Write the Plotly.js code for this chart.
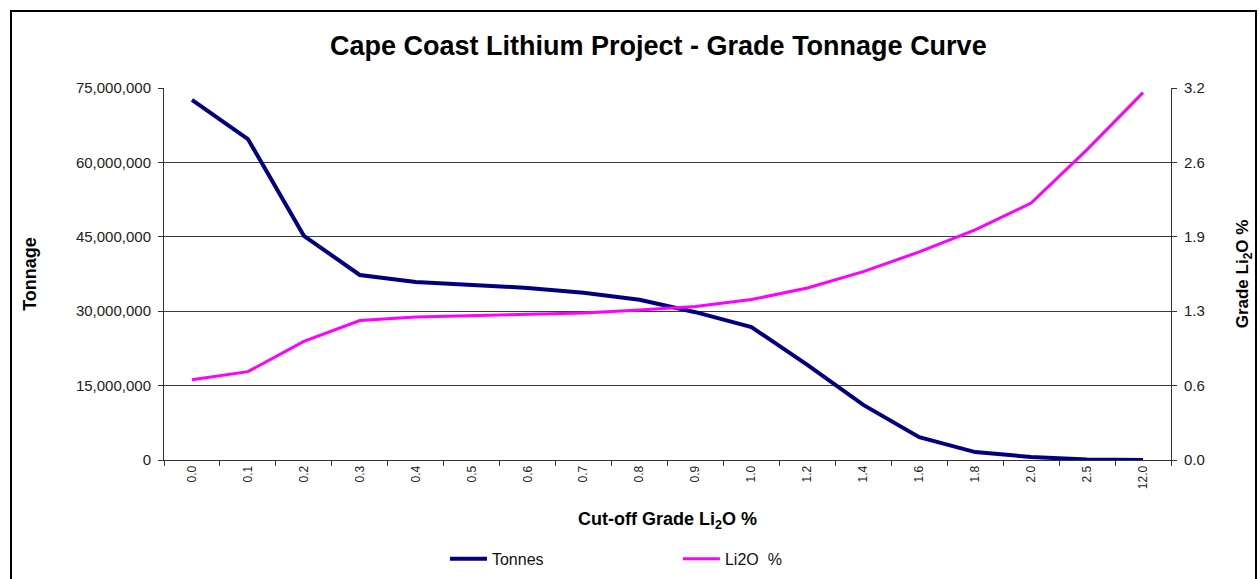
<!DOCTYPE html>
<html>
<head>
<meta charset="utf-8">
<script src="https://cdn.plot.ly/plotly-3.0.1.min.js"></script>
<style>
  html, body { margin: 0; padding: 0; background: #fff; overflow: hidden; }
  #frame { position: absolute; left: 10px; top: 10px; width: 1243px; height: 620px; border: 2px solid #000; overflow: hidden; }
  #chart { width: 1243px; height: 620px; }
</style>
</head>
<body>
<div id="frame"><div id="chart"></div></div>
<script>
const cutoffGrades = ['0.0','0.1','0.2','0.3','0.4','0.5','0.6','0.7','0.8','0.9','1.0','1.2','1.4','1.6','1.8','2.0','2.5','12.0'];
const tonnes = [72600000, 64700000, 45200000, 37300000, 35900000, 35300000, 34700000, 33700000, 32300000, 29800000, 26800000, 19200000, 11100000, 4600000, 1600000, 600000, 100000, 20000];
const li2oGrade = [0.69, 0.76, 1.02, 1.20, 1.23, 1.24, 1.25, 1.265, 1.29, 1.32, 1.38, 1.48, 1.62, 1.79, 1.98, 2.21, 2.67, 3.16];
const gradeTickVals = [0, 0.64, 1.28, 1.92, 2.56, 3.2];
const gradeTickText = ['0.0', '0.6', '1.3', '1.9', '2.6', '3.2'];

const FONT = 'Liberation Sans, Arial, sans-serif';
const AX = '#333333';

const traces = [
  {
    x: cutoffGrades, y: tonnes, name: 'Tonnes', type: 'scatter', mode: 'lines',
    line: { color: '#000080', width: 4 }, yaxis: 'y'
  },
  {
    x: cutoffGrades, y: li2oGrade, name: 'Li2O  %', type: 'scatter', mode: 'lines',
    line: { color: '#FF00FF', width: 3 }, yaxis: 'y2'
  }
];

const layout = {
  width: 1243, height: 620,
  margin: { l: 152, r: 84, t: 76, b: 172 },
  paper_bgcolor: '#ffffff', plot_bgcolor: '#ffffff',
  font: { family: FONT, color: '#111' },
  title: {
    text: '<b>Cape Coast Lithium Project - Grade Tonnage Curve</b>',
    font: { family: FONT, size: 27, color: '#000' },
    x: 0.52, xref: 'container', xanchor: 'center',
    y: 1 - 34 / 620, yref: 'container', yanchor: 'middle'
  },
  xaxis: {
    type: 'category', range: [-0.5, 17.5],
    tickson: 'boundaries', ticks: 'outside', ticklen: 5, tickcolor: AX,
    tickangle: -90, tickfont: { family: FONT, size: 12, color: '#222' },
    showline: true, linecolor: AX, linewidth: 1, showgrid: false, zeroline: false,
    title: { text: '<b>Cut-off Grade Li<sub>2</sub>O %</b>', font: { family: FONT, size: 18, color: '#000' }, standoff: 24 }
  },
  yaxis: {
    range: [0, 75000000], dtick: 15000000, tick0: 0, tickformat: ',d',
    ticks: 'outside', ticklen: 5, tickcolor: AX, ticklabelstandoff: 4,
    tickfont: { family: FONT, size: 15, color: '#222' },
    showline: true, linecolor: AX, linewidth: 1,
    showgrid: true, gridcolor: '#3a3a3a', gridwidth: 1, zeroline: false,
    title: { text: '<b>Tonnage</b>', font: { family: FONT, size: 18, color: '#000' }, standoff: 34 }
  },
  yaxis2: {
    overlaying: 'y', side: 'right', range: [0, 3.2],
    tickmode: 'array', tickvals: gradeTickVals, ticktext: gradeTickText,
    ticks: 'outside', ticklen: 5, tickcolor: AX, ticklabelstandoff: 4,
    tickfont: { family: FONT, size: 15, color: '#222' },
    showline: true, linecolor: AX, linewidth: 1, showgrid: false, zeroline: false,
    title: { text: '<b>Grade Li<sub>2</sub>O %</b>', font: { family: FONT, size: 17, color: '#000' }, standoff: 32 }
  },
  showlegend: true,
  legend: {
    orientation: 'h', x: 0.279, xanchor: 'left', y: -0.266, yanchor: 'middle',
    font: { family: FONT, size: 16, color: '#111' },
    entrywidth: 181, entrywidthmode: 'pixels', itemwidth: 37,
    bgcolor: 'rgba(0,0,0,0)'
  }
};

Plotly.newPlot('chart', traces, layout, { displayModeBar: false, staticPlot: true });
</script>
</body>
</html>
